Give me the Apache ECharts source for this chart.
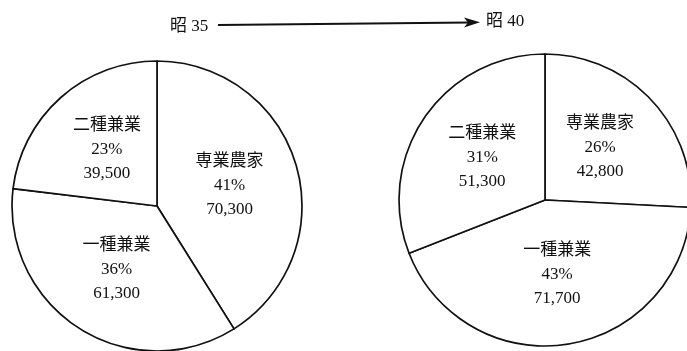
<!DOCTYPE html>
<html>
<head>
<meta charset="utf-8">
<script src="https://cdn.jsdelivr.net/npm/echarts@6/dist/echarts.min.js"></script>
<style>
html,body{margin:0;padding:0;background:#fff;}
#chart{width:687px;height:351px;}
</style>
</head>
<body>
<div id="chart"></div>
<script>
// Data
const categories = ['専業農家', '一種兼業', '二種兼業'];
const values1960 = [70300, 61300, 39500];   // 昭35
const values1965 = [42800, 71700, 51300];   // 昭40
const yearLabels = ['昭 35', '昭 40'];

const FONT = '"Liberation Serif", "DejaVu Serif", "Noto Sans CJK JP", serif';

function makeData(vals) {
  return categories.map((c, i) => ({ name: c, value: vals[i] }));
}

function fmt(p) {
  return p.name + '\n' + Math.round(p.percent) + '%\n' + p.value.toLocaleString('en-US');
}

function pieSeries(vals, center, radius) {
  return {
    type: 'pie',
    center: center,
    radius: radius,
    startAngle: 90,
    clockwise: true,
    animation: false,
    silent: true,
    data: makeData(vals),
    itemStyle: { color: '#ffffff', borderColor: '#111111', borderWidth: 1.7 },
    label: {
      show: true,
      position: 'inside',
      formatter: fmt,
      color: '#111111',
      fontFamily: FONT,
      fontSize: 17,
      lineHeight: 24,
      align: 'center'
    },
    labelLine: { show: false },
    emphasis: { disabled: true }
  };
}

const chart = echarts.init(document.getElementById('chart'), null, { renderer: 'canvas' });
chart.setOption({
  backgroundColor: '#ffffff',
  animation: false,
  series: [
    pieSeries(values1960, [157, 206], 145),
    pieSeries(values1965, [545, 200], 146)
  ],
  graphic: [
    { type: 'text', left: 170, top: 18,
      style: { text: yearLabels[0], font: '17px ' + FONT, fill: '#111' } },
    { type: 'line', shape: { x1: 218, y1: 25, x2: 470, y2: 22.5 },
      style: { stroke: '#111', lineWidth: 2 } },
    { type: 'polygon', shape: { points: [[480, 22.3], [464, 17.5], [468, 22.5], [464, 27.5]] },
      style: { fill: '#111' } },
    { type: 'text', left: 486, top: 13,
      style: { text: yearLabels[1], font: '17px ' + FONT, fill: '#111' } }
  ]
});
</script>
</body>
</html>
